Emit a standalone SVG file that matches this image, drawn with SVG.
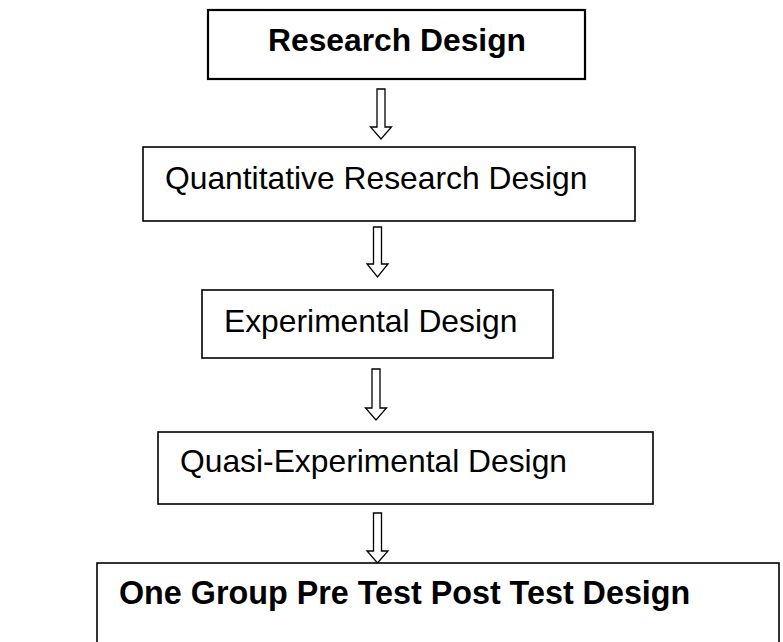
<svg xmlns="http://www.w3.org/2000/svg" width="783" height="642" viewBox="0 0 783 642">
<style>
.box{fill:#fff;stroke:#000;stroke-width:1.6}
.t{font-family:"Liberation Sans",Arial,sans-serif;font-size:31.8px;fill:#000}
.b{font-weight:bold}
.arr{fill:#fff;stroke:#000;stroke-width:1.3;stroke-linejoin:miter}
</style>
<rect width="783" height="642" fill="#fff"/>
<g id="n1"><rect class="box" x="208" y="10" width="377" height="69" style="stroke-width:2.2"/><text class="t b" x="268" y="51">Research Design</text></g>
<g id="n2"><rect class="box" x="143" y="147" width="492" height="74"/><text class="t" x="165" y="189">Quantitative Research Design</text></g>
<g id="n3"><rect class="box" x="202" y="290" width="351" height="68"/><text class="t" x="224" y="332">Experimental Design</text></g>
<g id="n4"><rect class="box" x="158" y="432" width="495" height="72"/><text class="t" x="180" y="472">Quasi-Experimental Design</text></g>
<g id="n5"><rect class="box" x="97" y="563" width="682" height="100"/><text class="t b" x="119" y="604" style="font-size:32.3px">One Group Pre Test Post Test Design</text></g>
<g id="connectors">
<path class="arr" d="M377,89 H385 V127 H391.5 L381,139 L370.5,127 H377 Z"/>
<path class="arr" d="M373.5,227 H381.5 V264 H388 L377.5,277 L367,264 H373.5 Z"/>
<path class="arr" d="M372,369 H380 V408 H386.5 L376,420 L365.5,408 H372 Z"/>
<path class="arr" d="M373.5,513 H381.5 V551 H388 L377.5,563 L367,551 H373.5 Z"/>
</g>
</svg>
